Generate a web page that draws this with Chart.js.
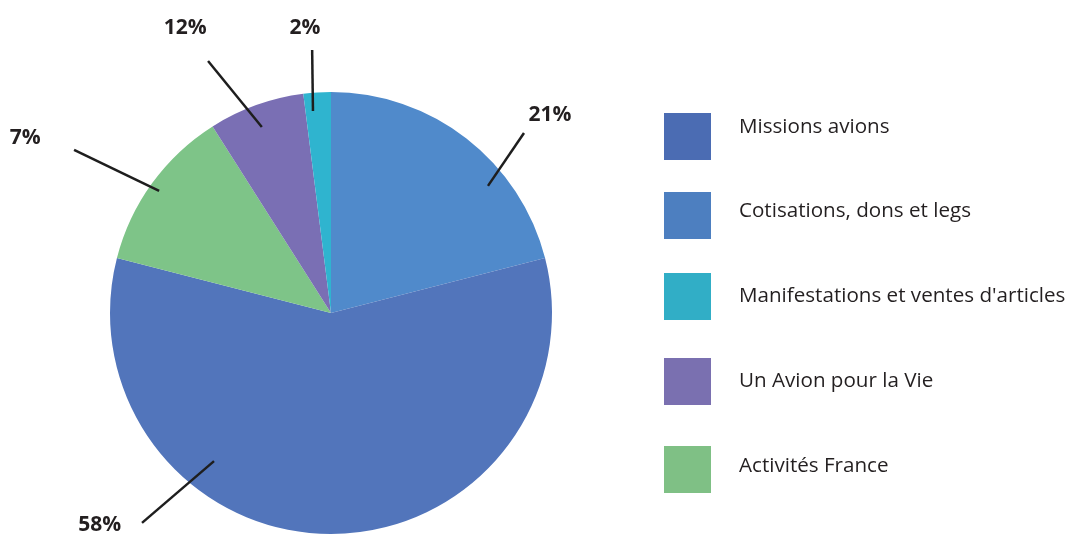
<!DOCTYPE html>
<html><head><meta charset="utf-8">
<script src="https://cdn.jsdelivr.net/npm/chart.js@4/dist/chart.umd.min.js"></script>
<style>html,body{margin:0;padding:0;background:#fff;}canvas{display:block;}</style>
</head><body>
<canvas id="c" width="1072" height="541"></canvas>
<script>
// Slices in clockwise order from 12 o'clock
const categories = ['Cotisations, dons et legs', 'Missions avions', 'Activités France', 'Un Avion pour la Vie', 'Manifestations et ventes d\'articles'];
const values = [21, 58, 12, 7, 2];
const valueLabels = ['21%', '58%', '7%', '12%', '2%'];
const sliceColors = ['#508acb', '#5275bb', '#7ec488', '#7a6fb4', '#2fb4cf'];
// Legend order as printed
const legendOrder = ['Missions avions', 'Cotisations, dons et legs', 'Manifestations et ventes d\'articles', 'Un Avion pour la Vie', 'Activités France'];
const legendColors = ['#4b6cb3', '#4d7fc0', '#31aec6', '#7a70b0', '#7fc085'];

// leader-line geometry: [angle deg clockwise from top, inner r, outer angle, outer r, text angle, text r] (r in units of pie radius)
const leaderGeom = [
  [51.0, 0.914, 47.0, 1.194, 47.9, 1.336],
  [218.3, 0.854, 222.0, 1.278, 227.5, 1.419],
  [305.4, 0.954, 302.4, 1.377, 299.8, 1.595],
  [339.6, 0.898, 334.0, 1.269, 332.9, 1.449],
  [354.9, 0.918, 355.9, 1.193, 354.8, 1.295]
];

const labelPlugin = {
  id: 'leaders',
  afterDatasetsDraw(chart) {
    const ctx = chart.ctx;
    const arc = chart.getDatasetMeta(0).data[0];
    const cx = arc.x, cy = arc.y, R = arc.outerRadius;
    const pt = (deg, r) => {
      const a = deg * Math.PI / 180;
      return [cx + Math.sin(a) * r * R, cy - Math.cos(a) * r * R];
    };
    ctx.save();
    ctx.strokeStyle = '#1e1e1e';
    ctx.lineWidth = 2.5;
    ctx.fillStyle = '#231f20';
    ctx.font = 'bold 21px "Open Sans", "Liberation Sans", sans-serif';
    ctx.textAlign = 'center';
    ctx.textBaseline = 'middle';
    leaderGeom.forEach((g, i) => {
      const p1 = pt(g[0], g[1]), p2 = pt(g[2], g[3]), pt3 = pt(g[4], g[5]);
      ctx.beginPath();
      ctx.moveTo(p1[0], p1[1]);
      ctx.lineTo(p2[0], p2[1]);
      ctx.stroke();
      ctx.fillText(valueLabels[i], pt3[0], pt3[1]);
    });
    // legend
    const boxTops = [113, 192, 273, 358, 446];
    const textY = [127, 211, 296, 381, 466];
    ctx.font = '20.6px "Open Sans", "Liberation Sans", sans-serif';
    ctx.textAlign = 'left';
    legendOrder.forEach((name, i) => {
      ctx.fillStyle = legendColors[i];
      ctx.fillRect(664, boxTops[i], 47, 47);
      ctx.fillStyle = '#231f20';
      ctx.fillText(name, 739, textY[i]);
    });
    ctx.restore();
  }
};

new Chart(document.getElementById('c'), {
  type: 'pie',
  data: {
    labels: categories,
    datasets: [{ data: values, backgroundColor: sliceColors, borderWidth: 0 }]
  },
  options: {
    responsive: false,
    animation: false,
    layout: { padding: { left: 110, right: 520, top: 92, bottom: 7 } },
    plugins: { legend: { display: false }, tooltip: { enabled: false } }
  },
  plugins: [labelPlugin]
});
</script>
</body></html>
